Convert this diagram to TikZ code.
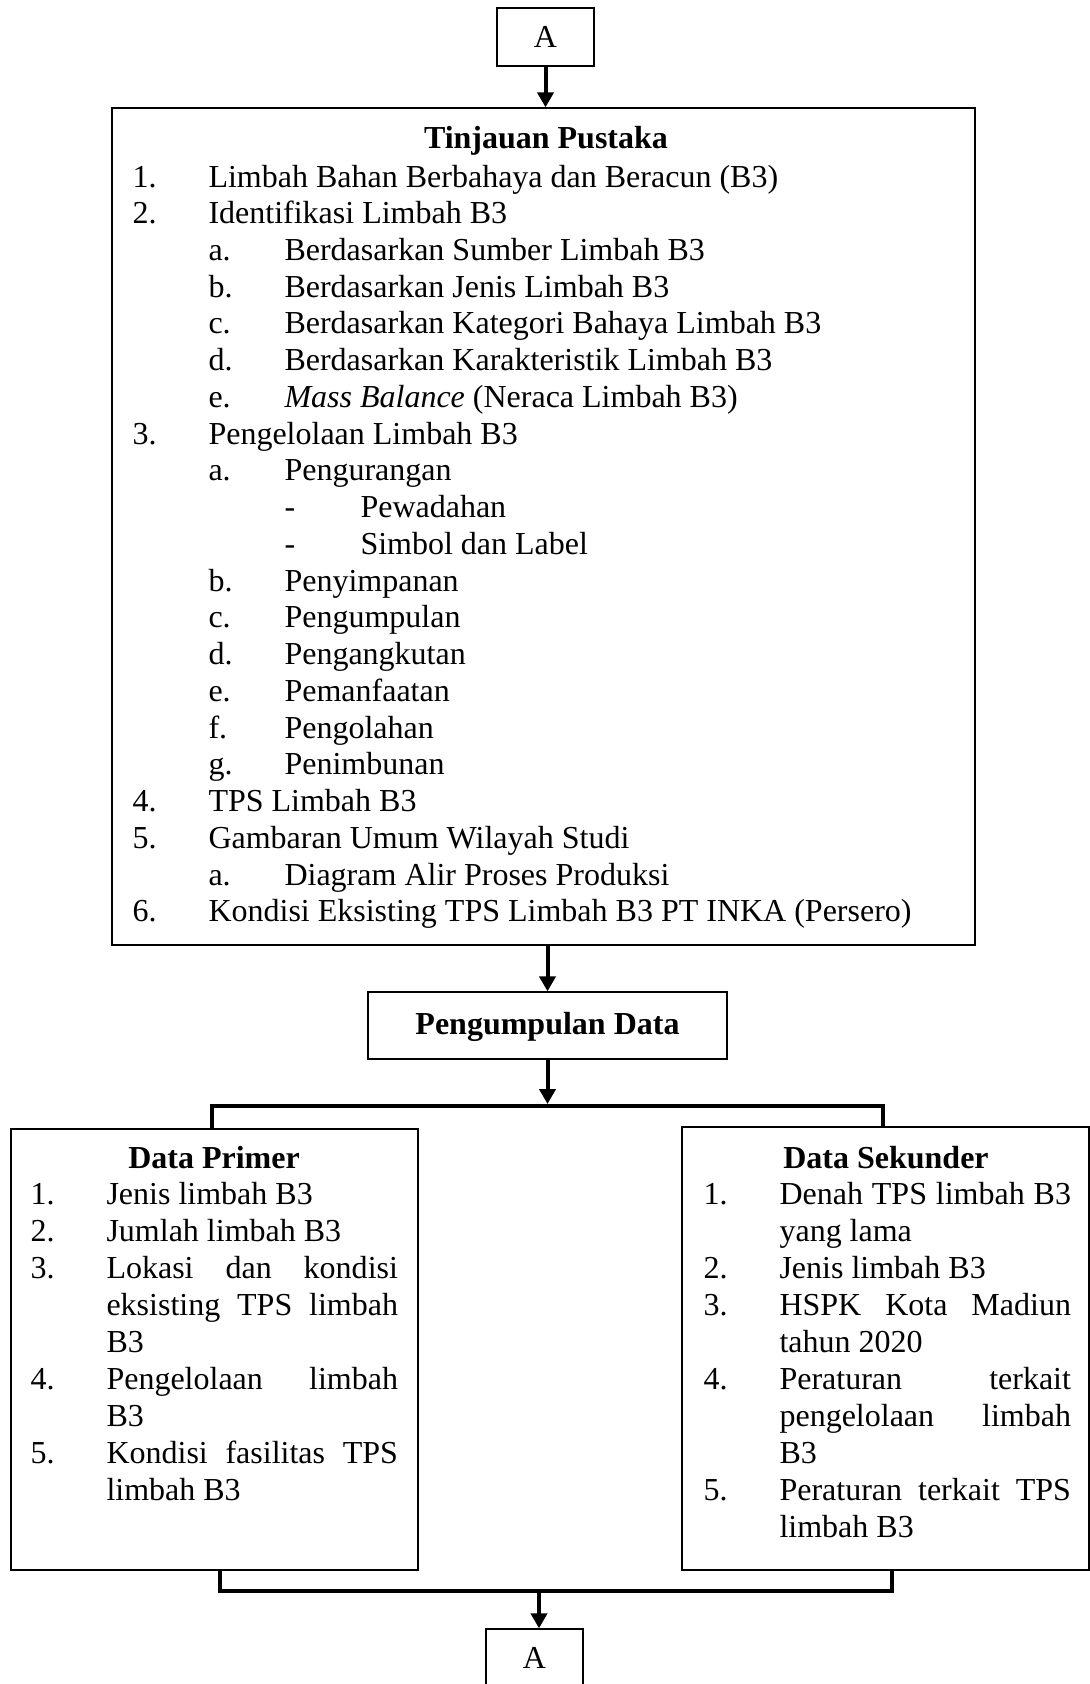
\documentclass[tikz,border=0pt]{standalone}
\usepackage{fontspec}
\setmainfont{Liberation Serif}
\usetikzlibrary{arrows.meta,calc}
\newlength\tabw \setlength\tabw{28.5pt}
\newlength\colw \setlength\colw{109.3pt}
\newcommand\myitem[2]{\makebox[\tabw][l]{#1}#2}
\newcommand\jline[1]{\makebox[\colw][s]{#1}}
\newcommand\myind{\hspace*{\tabw}}
\tikzset{
  box/.style={draw, line width=0.5pt, inner sep=0pt, rectangle},
  conn/.style={line width=1.5pt},
  arr/.style={conn, -{Triangle[length=5.6pt,width=6pt]}},
  txt/.style={inner sep=0pt, font=\fontsize{12pt}{13.9pt}\selectfont},
  ttxt/.style={inner sep=0pt, font=\fontsize{12pt}{13.78pt}\selectfont},
  btxt/.style={inner sep=0pt, font=\fontsize{12pt}{13.9pt}\selectfont\bfseries},
}
\begin{document}
\begin{tikzpicture}[x=0.375pt,y=-0.375pt]
\useasboundingbox (0,0) rectangle (1090,1684);
\fill[white] (0,0) rectangle (1090,1684);

% boxes
\node[box, txt, minimum width=36.375pt, minimum height=21.75pt] (a1) at (545.5,37) {A};
\node[box, minimum width=323.625pt, minimum height=313.875pt] (tp) at (543.5,526.5) {};
\node[box, minimum width=134.625pt, minimum height=25.125pt] (pd) at (547.5,1025.5) {};
\node[box, minimum width=152.625pt, minimum height=165.375pt] (pr) at (214.5,1349.5) {};
\node[box, minimum width=152.625pt, minimum height=166.125pt] (sk) at (885.5,1348.5) {};
\node[box, txt, minimum width=36.375pt, minimum height=21.75pt] (a2) at (534.5,1658) {A};

% Tinjauan Pustaka
\node[btxt, anchor=base] (tpt) at (546,149) {Tinjauan Pustaka};
\node[ttxt, anchor=base west] (tpl) at (132,187) {\parbox[t]{310pt}{%
\myitem{1.}{Limbah Bahan Berbahaya dan Beracun (B3)}\\
\myitem{2.}{Identifikasi Limbah B3}\\
\myind\myitem{a.}{Berdasarkan Sumber Limbah B3}\\
\myind\myitem{b.}{Berdasarkan Jenis Limbah B3}\\
\myind\myitem{c.}{Berdasarkan Kategori Bahaya Limbah B3}\\
\myind\myitem{d.}{Berdasarkan Karakteristik Limbah B3}\\
\myind\myitem{e.}{\textit{Mass Balance} (Neraca Limbah B3)}\\
\myitem{3.}{Pengelolaan Limbah B3}\\
\myind\myitem{a.}{Pengurangan}\\
\myind\myind\myitem{-}{Pewadahan}\\
\myind\myind\myitem{-}{Simbol dan Label}\\
\myind\myitem{b.}{Penyimpanan}\\
\myind\myitem{c.}{Pengumpulan}\\
\myind\myitem{d.}{Pengangkutan}\\
\myind\myitem{e.}{Pemanfaatan}\\
\myind\myitem{f.}{Pengolahan}\\
\myind\myitem{g.}{Penimbunan}\\
\myitem{4.}{TPS Limbah B3}\\
\myitem{5.}{Gambaran Umum Wilayah Studi}\\
\myind\myitem{a.}{Diagram Alir Proses Produksi}\\
\myitem{6.}{Kondisi Eksisting TPS Limbah B3 PT INKA (Persero)}}};

% Pengumpulan Data
\node[btxt, anchor=base] (pdt) at (547.5,1034) {Pengumpulan Data};

% Data Primer
\node[btxt, anchor=base] (prt) at (214,1168) {Data Primer};
\node[txt, anchor=base west] (prl) at (30,1204) {\parbox[t]{140pt}{%
\myitem{1.}{Jenis limbah B3}\\
\myitem{2.}{Jumlah limbah B3}\\
\myitem{3.}{\jline{Lokasi dan kondisi}}\\
\myind\jline{eksisting TPS limbah}\\
\myind B3\\
\myitem{4.}{\jline{Pengelolaan limbah}}\\
\myind B3\\
\myitem{5.}{\jline{Kondisi fasilitas TPS}}\\
\myind limbah B3}};

% Data Sekunder
\node[btxt, anchor=base] (skt) at (886,1168) {Data Sekunder};
\node[txt, anchor=base west] (skl) at (703,1204) {\parbox[t]{140pt}{%
\myitem{1.}{\jline{Denah TPS limbah B3}}\\
\myind yang lama\\
\myitem{2.}{Jenis limbah B3}\\
\myitem{3.}{\jline{HSPK Kota Madiun}}\\
\myind tahun 2020\\
\myitem{4.}{\jline{Peraturan terkait}}\\
\myind\jline{pengelolaan limbah}\\
\myind B3\\
\myitem{5.}{\jline{Peraturan terkait TPS}}\\
\myind limbah B3}};

% connectors
\coordinate (bus1) at (547.5,1106);
\coordinate (bus2) at (539,1591);
\draw[arr] (a1.south) -- (a1.south |- tp.north);
\draw[arr] (pd.north |- tp.south) -- (pd.north);
\draw[arr] (pd.south) -- ($(bus1)+(0,-2)$);
\draw[conn] ($(pr.north)+(-2.5,0)$) |- (bus1) -| ($(sk.north)+(-2.5,0)$);
\draw[conn] ($(pr.south)+(5.5,0)$) |- (bus2) -| ($(sk.south)+(6.5,0)$);
\draw[arr] (bus2) -- (bus2 |- a2.north);
\end{tikzpicture}
\end{document}
